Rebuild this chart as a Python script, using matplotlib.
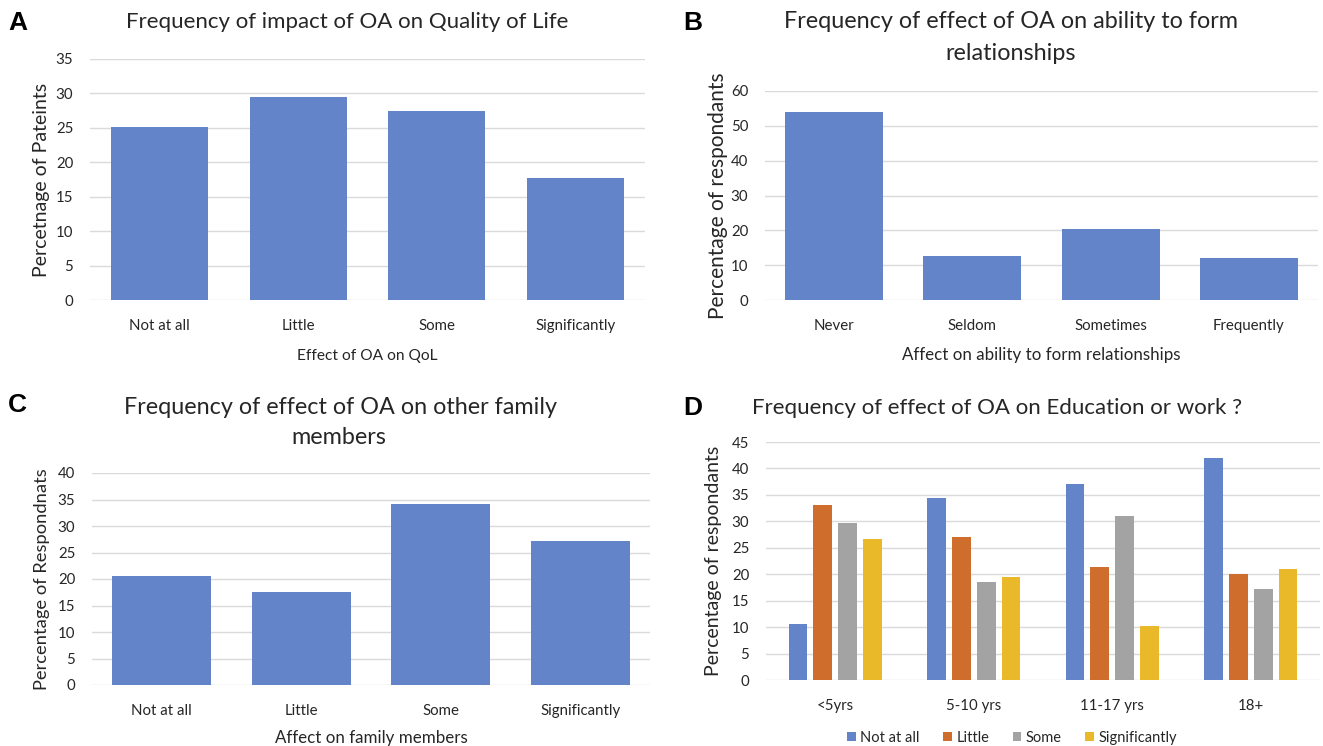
import matplotlib
matplotlib.use("Agg")
import matplotlib.pyplot as plt
import numpy as np

plt.rcParams['font.family'] = ['Lato', 'DejaVu Sans']

# ---------------- data ----------------
a_cats = ["Not at all", "Little", "Some", "Significantly"]
a_vals = [25.1, 29.5, 27.4, 17.7]

b_cats = ["Never", "Seldom", "Sometimes", "Frequently"]
b_vals = [54.0, 12.6, 20.4, 12.1]

c_cats = ["Not at all", "Little", "Some", "Significantly"]
c_vals = [20.6, 17.5, 34.2, 27.2]

d_groups = ["<5yrs", "5-10 yrs", "11-17 yrs", "18+"]
d_series = ["Not at all", "Little", "Some", "Significantly"]
d_not_at_all = [10.5, 34.5, 37.0, 42.0]
d_little = [33.0, 27.1, 21.4, 20.0]
d_some = [29.7, 18.5, 31.0, 17.2]
d_significantly = [26.7, 19.4, 10.3, 21.0]

BLUE = "#6384C8"
ORANGE = "#CF6D2C"
GRAY = "#A3A3A3"
YELLOW = "#E9B92A"
GRID = "#DADADA"
TXT = "#262626"

W, H = 1323, 746
fig = plt.figure(figsize=(W / 100, H / 100), dpi=100)


def ax_px(left, top, right, bottom):
    return fig.add_axes([left / W, 1 - bottom / H, (right - left) / W, (bottom - top) / H])


def style(ax, ymax, step, cats):
    ax.set_ylim(0, ymax)
    ax.set_yticks(np.arange(0, ymax + 0.1, step))
    ax.set_xlim(-0.5, len(cats) - 0.5)
    ax.set_xticks(range(len(cats)))
    ax.set_xticklabels(cats)
    for s in ax.spines.values():
        s.set_visible(False)
    ax.yaxis.grid(True, color=GRID, linewidth=1.0)
    ax.set_axisbelow(True)
    ax.tick_params(axis='both', length=0, labelsize=10.8, colors=TXT)
    ax.tick_params(axis='y', pad=12)
    ax.tick_params(axis='x', pad=14)


# ---------- Panel A ----------
axA = ax_px(90, 59, 645, 300)
axA.bar(range(4), a_vals, width=0.7, color=BLUE)
style(axA, 35, 5, a_cats)
axA.set_xlabel("Effect of OA on QoL", fontsize=11.2, color=TXT, labelpad=11)
axA.set_ylabel("Percetnage of Pateints", fontsize=14, color=TXT)
axA.yaxis.set_label_coords(-0.072, 0.5)

# ---------- Panel B ----------
axB = ax_px(765, 91, 1318, 300)
axB.bar(range(4), b_vals, width=0.71, color=BLUE)
style(axB, 60, 10, b_cats)
axB.set_xlabel("Affect on ability to form relationships", fontsize=12.2, color=TXT, labelpad=10)
axB.set_ylabel("Percentage of respondants", fontsize=15, color=TXT)
axB.yaxis.set_label_coords(-0.067, 0.5)

# ---------- Panel C ----------
axC = ax_px(92, 473, 650, 685)
axC.bar(range(4), c_vals, width=0.71, color=BLUE)
style(axC, 40, 5, c_cats)
axC.set_xlabel("Affect on family members", fontsize=12.2, color=TXT, labelpad=8)
axC.set_ylabel("Percentage of Respondnats", fontsize=13.2, color=TXT)
axC.yaxis.set_label_coords(-0.075, 0.5)

# ---------- Panel D ----------
axD = ax_px(766, 442, 1320, 680)
x = np.arange(len(d_groups))
bw = 0.135
step = 0.18
series_vals = [d_not_at_all, d_little, d_some, d_significantly]
colors = [BLUE, ORANGE, GRAY, YELLOW]
for i, (vals, col, name) in enumerate(zip(series_vals, colors, d_series)):
    axD.bar(x + (i - 1.5) * step, vals, width=bw, color=col, label=name)
style(axD, 45, 5, d_groups)
axD.set_ylabel("Percentage of respondants", fontsize=14, color=TXT)
axD.yaxis.set_label_coords(-0.079, 0.5)
leg = fig.legend(loc='center', bbox_to_anchor=(1012 / W, 1 - 738 / H), ncol=4,
                 frameon=False, fontsize=10.5, handlelength=0.6, handleheight=0.6,
                 handletextpad=0.3, columnspacing=1.6, borderpad=0)
for t in leg.get_texts():
    t.set_color(TXT)

# ---------- Titles & panel letters ----------
def ftext(xp, yp, s, **kw):
    fig.text(xp / W, 1 - yp / H, s, **kw)

tkw = dict(color=TXT, ha='center', va='center')
ftext(347, 22, "Frequency of impact of OA on Quality of Life", fontsize=16, **tkw)
ftext(1011, 22, "Frequency of effect of OA on ability to form", fontsize=16.8, **tkw)
ftext(1011, 54, "relationships", fontsize=16.8, **tkw)
ftext(340, 407, "Frequency of effect of OA on other family", fontsize=16.8, **tkw)
ftext(339, 438, "members", fontsize=16.8, **tkw)
ftext(997, 408, "Frequency of effect of OA on Education or work ?", fontsize=16, **tkw)

lkw = dict(fontsize=19, fontweight='bold', color='black', ha='left', va='center',
           family=['Liberation Sans', 'DejaVu Sans'])
ftext(8, 23, "A", **lkw)
ftext(683, 23, "B", **lkw)
ftext(8, 405, "C", **lkw)
ftext(683, 408, "D", **lkw)

fig.savefig("out.png", dpi=100, facecolor='white')
